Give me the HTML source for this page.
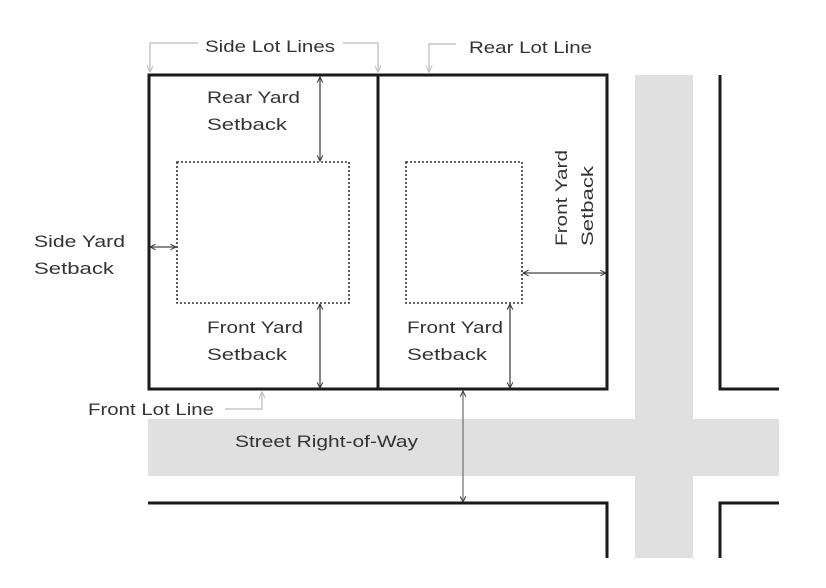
<!DOCTYPE html>
<html><head><meta charset="utf-8"><style>
html,body{margin:0;padding:0;background:#fff;}
svg{display:block;}
text{font-family:"Liberation Sans",sans-serif;font-size:17px;fill:#333;}
</style></head><body>
<svg width="826" height="588" viewBox="0 0 826 588" xmlns="http://www.w3.org/2000/svg">
<defs>
<marker id="a" viewBox="0 0 10 10" refX="9" refY="5" markerWidth="7" markerHeight="7" orient="auto-start-reverse" markerUnits="userSpaceOnUse">
<path d="M1,1 L9,5 L1,9" fill="none" stroke="#333" stroke-width="1.4"/></marker>
<marker id="g" viewBox="0 0 10 10" refX="9" refY="5" markerWidth="8" markerHeight="8" orient="auto" markerUnits="userSpaceOnUse">
<path d="M1,1 L9,5 L1,9" fill="none" stroke="#bbb" stroke-width="1.2"/></marker>
</defs>
<!-- gray streets -->
<rect x="148" y="419" width="631" height="57" fill="#e0e0e0"/>
<rect x="635" y="75" width="58" height="483" fill="#e0e0e0"/>
<!-- lots -->
<g fill="none" stroke="#1a1a1a" stroke-width="3">
<rect x="149" y="75" width="458" height="314"/>
<line x1="378" y1="75" x2="378" y2="389"/>
<polyline points="720,75 720,389 779,389"/>
<polyline points="148,503 607,503 607,558"/>
<polyline points="779,503 720,503 720,558"/>
</g>
<!-- building envelopes -->
<g fill="none" stroke="#333" stroke-width="1.6" stroke-dasharray="2,2">
<rect x="177" y="162" width="172" height="141"/>
<rect x="406" y="162" width="116" height="141"/>
</g>
<!-- dimension arrows -->
<g stroke="#444" stroke-width="1.3" marker-start="url(#a)" marker-end="url(#a)">
<line x1="320" y1="77" x2="320" y2="161"/>
<line x1="320" y1="304" x2="320" y2="388"/>
<line x1="510" y1="304" x2="510" y2="388"/>
<line x1="150" y1="247" x2="176" y2="247"/>
<line x1="523" y1="273" x2="606" y2="273"/>
<line x1="463" y1="391" x2="463" y2="502" stroke="#777"/>
</g>
<!-- callouts -->
<g fill="none" stroke="#bbb" stroke-width="1.2">
<polyline points="198,43 150,43 150,72" marker-end="url(#g)"/>
<polyline points="343,43 378,43 378,72" marker-end="url(#g)"/>
<polyline points="456,44 429,44 429,72" marker-end="url(#g)"/>
<polyline points="225,409 262,409 262,392" marker-end="url(#g)"/>
</g>
<!-- labels -->
<text x="205" y="52" textLength="130" lengthAdjust="spacingAndGlyphs">Side Lot Lines</text>
<text x="469" y="53" textLength="123" lengthAdjust="spacingAndGlyphs">Rear Lot Line</text>
<text x="207" y="103" textLength="93" lengthAdjust="spacingAndGlyphs">Rear Yard</text>
<text x="207" y="130" textLength="80" lengthAdjust="spacingAndGlyphs">Setback</text>
<text x="34" y="247" textLength="91" lengthAdjust="spacingAndGlyphs">Side Yard</text>
<text x="34" y="274" textLength="80" lengthAdjust="spacingAndGlyphs">Setback</text>
<text x="207" y="333" textLength="96" lengthAdjust="spacingAndGlyphs">Front Yard</text>
<text x="207" y="360" textLength="80" lengthAdjust="spacingAndGlyphs">Setback</text>
<text x="407" y="333" textLength="96" lengthAdjust="spacingAndGlyphs">Front Yard</text>
<text x="407" y="360" textLength="80" lengthAdjust="spacingAndGlyphs">Setback</text>
<text transform="translate(567,246) rotate(-90)" textLength="96" lengthAdjust="spacingAndGlyphs">Front Yard</text>
<text transform="translate(593,246) rotate(-90)" textLength="80" lengthAdjust="spacingAndGlyphs">Setback</text>
<text x="88" y="415" textLength="126" lengthAdjust="spacingAndGlyphs">Front Lot Line</text>
<text x="235" y="447" textLength="183" lengthAdjust="spacingAndGlyphs">Street Right-of-Way</text>
</svg>
</body></html>
